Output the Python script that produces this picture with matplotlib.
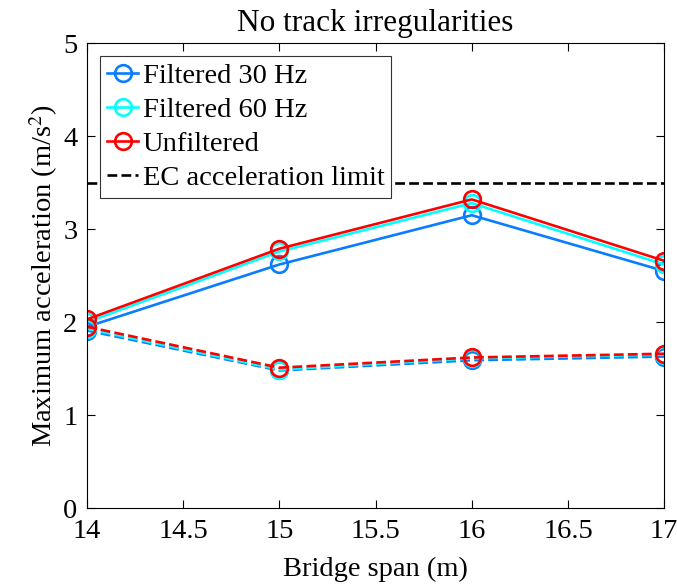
import numpy as np
import matplotlib
matplotlib.use('Agg')
import matplotlib.pyplot as plt

plt.rcParams['font.family'] = ['Liberation Serif', 'DejaVu Serif']
plt.rcParams['mathtext.fontset'] = 'stix'

# data
span = [14, 15, 16, 17]

# solid lines
f30_solid = [1.95, 2.62, 3.15, 2.55]
f60_solid = [2.00, 2.76, 3.28, 2.62]
unf_solid = [2.03, 2.79, 3.32, 2.66]

# dashed lines
f30_dash = [1.91, 1.48, 1.59, 1.63]
f60_dash = [1.93, 1.49, 1.61, 1.65]
unf_dash = [1.95, 1.51, 1.62, 1.66]

ec_limit = 3.5

c30 = '#0a7cff'
c60 = '#00ffff'
cunf = '#ff0000'

fs = 20.5

fig = plt.figure(figsize=(6.77, 5.84), dpi=100)
ax = fig.add_axes([0.1285, 0.130, 0.8525, 0.796])

lw = 1.9
kw = dict(marker='o', mfc='none', mew=1.9, ms=12, lw=lw)

ax.plot(span, f30_solid, color=c30, label='Filtered 30 Hz', **kw)
ax.plot(span, f60_solid, color=c60, label='Filtered 60 Hz', **kw)
ax.plot(span, unf_solid, color=cunf, label='Unfiltered', **kw)
ax.plot(span, f30_dash, color=c30, ls='--', **kw)
ax.plot(span, f60_dash, color=c60, ls='--', **kw)
ax.plot(span, unf_dash, color=cunf, ls='--', **kw)
ax.axhline(ec_limit, color='k', ls='--', lw=lw, label='EC acceleration limit')

ax.set_xlim(14, 17)
ax.set_ylim(0, 5)
ax.set_xticks([14, 14.5, 15, 15.5, 16, 16.5, 17])
ax.set_xticklabels(['14', '14.5', '15', '15.5', '16', '16.5', '17'])
ax.set_yticks([0, 1, 2, 3, 4, 5])

ax.tick_params(direction='in', top=True, right=True, labelsize=fs, length=6, width=0.8)
ax.tick_params(axis='x', pad=8)
ax.tick_params(axis='y', pad=7)
for s in ax.spines.values():
    s.set_linewidth(0.8)

ax.set_xlabel('Bridge span (m)', fontsize=fs, labelpad=9)
ax.set_ylabel(r'Maximum acceleration (m/s$^2$)', fontsize=fs, labelpad=2.5)
ax.set_title('No track irregularities', fontsize=22.5, pad=8.5)

leg = ax.legend(loc='upper left', fontsize=fs, frameon=True, fancybox=False,
                edgecolor='#333333', framealpha=1, handlelength=1.1, handletextpad=0.15,
                borderpad=0.25, labelspacing=0.28, borderaxespad=0.45)
leg.get_frame().set_linewidth(0.8)

fig.savefig('out.png', dpi=100)
